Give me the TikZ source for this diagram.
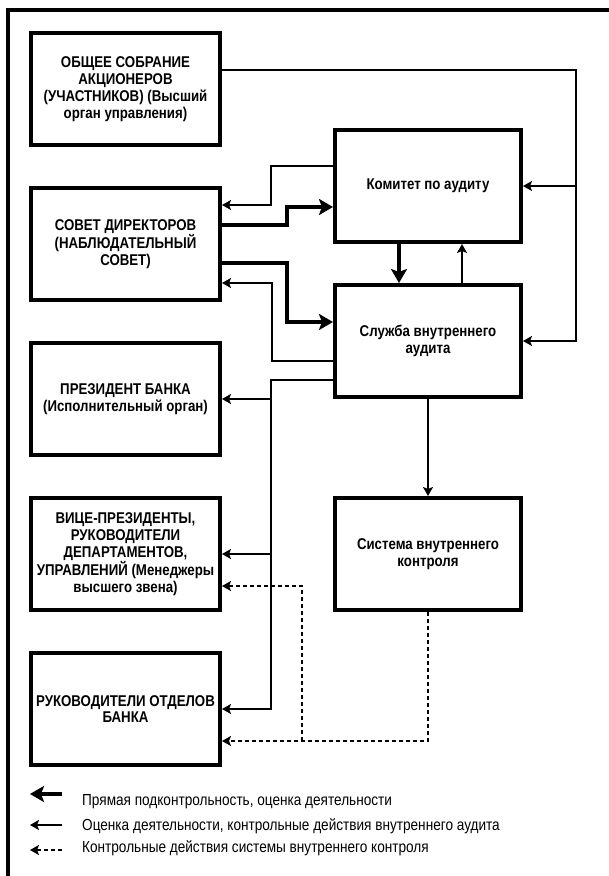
\documentclass[tikz,border=0pt]{standalone}
\usepackage{fontspec}
\setmainfont{Liberation Sans}
\newfontfamily\narrowfont[FakeStretch=0.85]{Liberation Sans}
\usetikzlibrary{arrows.meta,positioning}

\begin{document}
\begin{tikzpicture}[x=1pt, y=-1pt, node distance=39pt and 111pt,
    box/.style={draw, line width=4pt, minimum width=189pt, minimum height=112pt,
      inner sep=0pt, align=center, font={\narrowfont\bfseries\fontsize{15.6}{16.8}\selectfont}},
    rbox/.style={box, minimum width=186pt},
    conn/.style={line width=2pt, >={Stealth[length=9pt,width=10pt,inset=2pt]}},
    heavy/.style={line width=4.5pt, >={Stealth[length=14pt,width=16pt,inset=3pt]}},
    dashline/.style={conn, dash pattern=on 4pt off 3pt},
    legend/.style={anchor=west, inner sep=0pt, font={\narrowfont\fontsize{16}{17}\selectfont}}]
  \useasboundingbox (0,0) rectangle (609,876);
  \draw[line width=4pt] (609,10) -- (8,10) -- (8,876);

  \node[box] (gm) at (125.5,89) {ОБЩЕЕ СОБРАНИЕ\\АКЦИОНЕРОВ\\(УЧАСТНИКОВ) (Высший\\орган управления)};
  \node[box] (sd) [below=of gm] {СОВЕТ ДИРЕКТОРОВ\\(НАБЛЮДАТЕЛЬНЫЙ\\СОВЕТ)};
  \node[box] (pres) [below=of sd] {ПРЕЗИДЕНТ БАНКА\\(Исполнительный орган)};
  \node[box] (vp) [below=of pres] {ВИЦЕ-ПРЕЗИДЕНТЫ,\\РУКОВОДИТЕЛИ\\ДЕПАРТАМЕНТОВ,\\УПРАВЛЕНИЙ (Менеджеры\\высшего звена)};
  \node[box] (heads) [below=of vp] {РУКОВОДИТЕЛИ ОТДЕЛОВ\\БАНКА};

  \node[rbox] (kom) at (428,186) {Комитет по аудиту};
  \node[rbox] (sl) [below=of kom] {Служба внутреннего\\аудита};
  \node[rbox] (sys) [right=of vp] {Система внутреннего\\контроля};

  % right rail
  \coordinate (rt) at (576,70);
  \draw[conn,->] ([yshift=19pt]gm.east) -- (rt) |- (sl.east);
  \draw[conn,->] (rt |- kom.east) -- (kom.east);

  \draw[conn,->] ([yshift=20pt]kom.west) -- ++(-62,0) |- ([yshift=39pt]sd.east);
  \draw[heavy,->] ([yshift=19pt]sd.east) -- ++(65,0) |- ([yshift=-21pt]kom.west);
  \draw[heavy,->] ([yshift=-19pt]sd.east) -- ++(65,0) |- ([yshift=19pt]sl.west);
  \draw[conn,->] ([yshift=-20pt]sl.west) -- ++(-61,0) |- ([yshift=-39pt]sd.east);

  \draw[heavy,->] ([xshift=-29pt]kom.south) -- ([xshift=-29pt]sl.north);
  \draw[conn,->] ([xshift=34pt]sl.north) -- ([xshift=34pt]kom.south);
  \draw[conn,->] (sl.south) -- (sys.north);

  % left rail
  \coordinate (lr) at ([xshift=-62pt,yshift=-39pt]sl.west);
  \draw[conn,->] ([yshift=-39pt]sl.west) -- (lr) |- (heads.east);
  \draw[conn,->] (lr |- pres.east) -- (pres.east);
  \draw[conn,->] (lr |- vp.east) -- (vp.east);

  \draw[dashline,->] (sys.south) |- ([yshift=-32pt]heads.east);
  \coordinate (dj) at ([xshift=80pt,yshift=-32pt]heads.east);
  \draw[dashline,->] (dj) |- ([yshift=-32pt]vp.east);

  % legend
  \node[legend] (t1) at (82,802) {Прямая подконтрольность, оценка деятельности};
  \node[legend] (t2) at (82,826) {Оценка деятельности, контрольные действия внутреннего аудита};
  \node[legend] (t3) at (82,848) {Контрольные действия системы внутреннего контроля};
  \coordinate (a1) at (62,794);
  \coordinate (a2) at (62,825);
  \coordinate (a3) at (62,850);
  \draw[heavy,->] (a1) -- ++(-32,0);
  \draw[conn,->] (a2) -- ++(-32,0);
  \draw[dashline,->] (a3) -- ++(-32,0);
\end{tikzpicture}
\end{document}
